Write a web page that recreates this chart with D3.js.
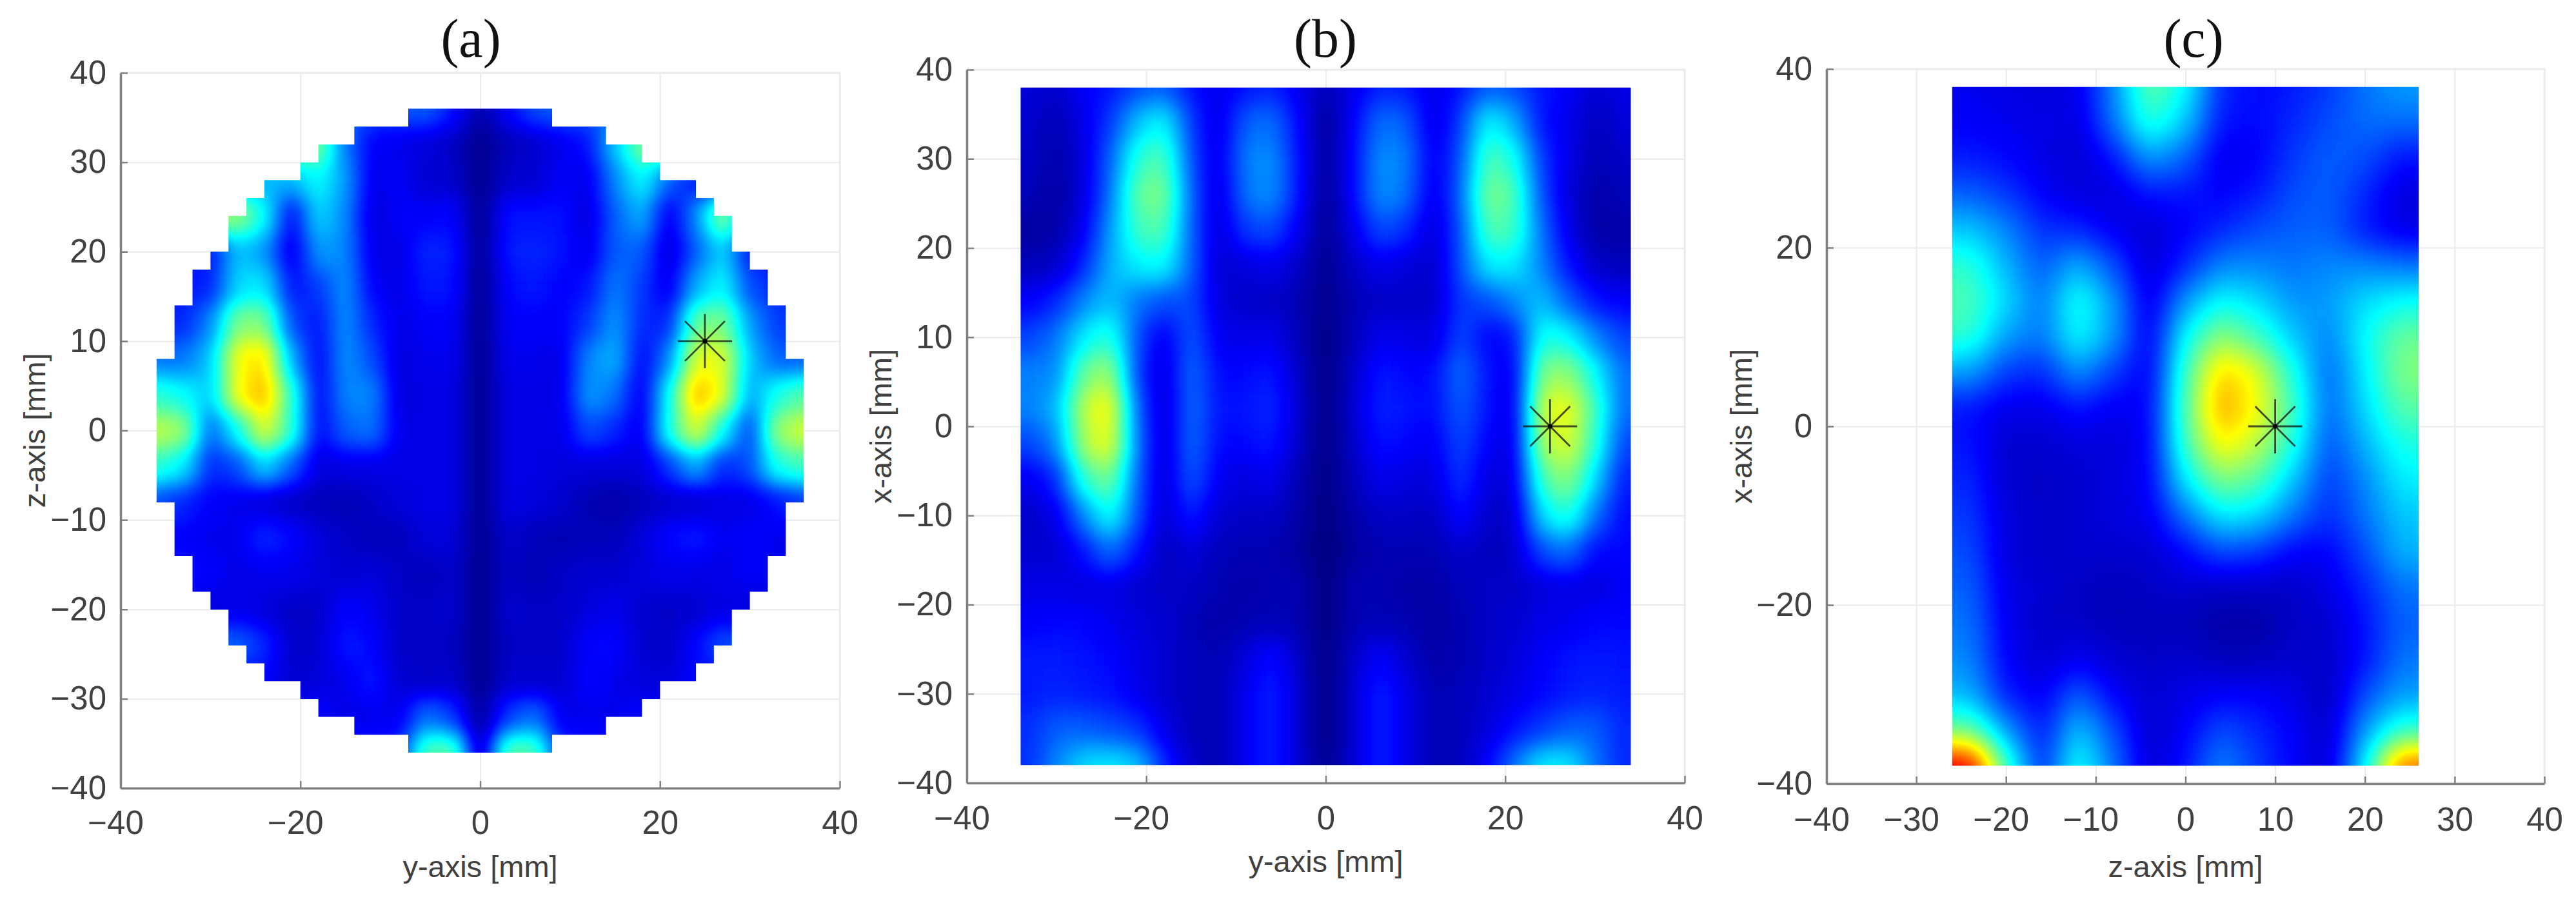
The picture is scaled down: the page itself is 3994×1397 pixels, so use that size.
<!DOCTYPE html>
<html>
  <head>
    <meta charset="UTF-8" />
    <script src="https://d3js.org/d3.v7.min.js"></script>
    <style>
      html, body { margin: 0; padding: 0; background: #fff; }
      svg { display: block; }
      .tickText text { font-family: "Liberation Sans", Arial, sans-serif; font-size: 51px; fill: #404040; }
      .axisTitle { font-family: "Liberation Sans", Arial, sans-serif; font-size: 47px; fill: #404040; text-anchor: middle; }
      .panelTitle { font-family: "Liberation Serif", "Times New Roman", serif; font-size: 84px; fill: #111; text-anchor: middle; }
    </style>
  </head>
  <body>
    <div id="chart"></div>
    <script>
      // jet colormap, one stop every 1/8
      var jetR = [0, 0, 0, 0, 0.5, 1, 1, 1, 0.5]
      var jetG = [0, 0, 0.5, 1, 1, 1, 0.5, 0, 0]
      var jetB = [0.5, 1, 1, 1, 0.5, 0, 0, 0, 0]

      var ticks10 = [-40, -30, -20, -10, 0, 10, 20, 30, 40]
      var ticks20 = [-40, -20, 0, 20, 40]

      var aCols = [-36, -33, -30, -27, -24, -21, -18, -15, -12, -9, -6, -3, 0, 3, 6, 9, 12, 15, 18, 21, 24, 27, 30, 33, 36]
      var aRows = [36, 32, 28, 24, 20, 16, 12, 8, 4, 0, -4, -8, -12, -16, -20, -24, -28, -32, -36]
      var aValues = [
        [22,22,22,22,22,22,22,22,20,20,22,14,4,12,20,22,22,22,22,22,22,22,22,22,22],
        [50,50,50,50,50,50,50,24,12,11,9,7,1,6,8,11,14,32,50,50,50,50,50,50,50],
        [30,30,30,30,30,30,38,28,10,12,8,8,1,8,8,12,10,26,38,22,14,14,14,14,14],
        [52,52,52,52,38,12,34,26,9,12,12,13,1,14,14,14,9,22,30,10,26,52,24,24,24],
        [14,14,14,32,28,9,28,26,10,10,16,15,1,15,16,14,10,22,22,8,22,34,14,14,14],
        [14,14,16,34,36,14,18,27,12,10,15,14,1,13,15,12,14,25,18,10,30,38,20,16,16],
        [16,16,26,50,50,20,14,27,16,10,12,12,1,12,12,12,18,28,16,16,48,50,28,18,18],
        [24,24,32,62,66,30,12,27,20,9,11,11,1,11,11,10,26,30,12,26,60,60,32,22,22],
        [42,38,32,62,70,42,12,26,26,9,10,10,1,10,10,10,28,24,10,38,70,60,28,40,46],
        [56,52,22,38,60,42,12,22,24,10,10,10,1,10,10,10,20,16,10,40,60,38,18,52,58],
        [42,36,16,20,34,22,9,10,10,10,10,10,1,10,10,9,9,9,9,18,30,16,20,40,44],
        [20,16,12,11,9,7,6,5,7,9,10,10,1,10,9,8,5,4,6,8,8,10,10,14,18],
        [12,12,11,11,16,13,9,7,6,6,9,9,1,8,6,5,6,6,9,13,15,11,12,11,11],
        [14,14,12,10,11,11,9,8,9,7,6,8,1,7,5,7,8,8,9,11,10,10,12,11,11],
        [9,9,9,11,9,7,7,13,11,7,7,8,1,8,7,7,9,11,8,7,8,10,9,9,9],
        [22,22,22,22,16,7,8,15,13,7,7,7,1,7,7,7,13,13,8,7,13,20,20,20,20],
        [13,13,13,13,13,8,9,11,15,8,7,8,1,8,8,8,13,11,9,9,13,13,13,13,13],
        [13,13,13,13,13,13,13,10,11,11,24,18,2,18,24,11,11,11,13,13,13,13,13,13,13],
        [15,15,15,15,15,15,15,15,15,16,46,46,4,46,46,16,15,15,15,15,15,15,15,15,15]
      ]
      // half width of the stepped disc, one entry per 2 mm row from z=36 down
      var aMaskHalf = [8,14,18,20,24,26,28,28,30,32,32,34,34,34,36,36,36,36,36,36,36,36,34,34,34,32,32,30,28,28,26,24,20,18,14,8]

      // panel (b)
      var bCols = [-33, -30, -27, -24, -21, -18, -15, -12, -9, -6, -3, 0, 3, 6, 9, 12, 15, 18, 21, 24, 27, 30, 33]
      var bRows = [38, 34, 30, 26, 22, 18, 14, 10, 6, 2, -2, -6, -10, -14, -18, -22, -26, -30, -34, -38]
      var bValues = [
        [9,7,12,14,20,22,14,10,14,16,11,5,10,16,15,10,14,22,20,14,12,8,10],
        [8,5,10,18,32,38,18,9,22,24,13,2,12,24,22,9,18,38,30,14,11,6,9],
        [7,4,9,22,42,46,20,9,25,27,14,2,13,27,25,10,20,46,40,18,10,5,7],
        [6,3,9,24,48,50,22,8,24,27,14,1,13,27,24,9,22,50,46,20,9,4,6],
        [3,4,11,28,44,46,22,8,18,20,11,1,10,20,17,8,20,46,44,24,10,4,4],
        [6,7,16,30,36,38,22,8,9,11,7,1,7,11,9,7,20,36,36,26,14,7,6],
        [12,16,26,32,24,20,20,9,7,7,5,1,5,7,7,7,18,20,26,32,22,14,12],
        [19,24,36,42,20,10,22,11,10,11,6,0,6,11,10,9,20,12,14,40,38,26,19],
        [25,26,48,54,18,8,24,13,13,15,7,0,7,15,13,13,24,14,10,50,52,38,23],
        [25,30,56,64,22,7,24,14,14,17,8,0,8,16,14,13,22,14,9,58,62,44,23],
        [19,26,54,62,24,7,24,13,13,15,7,0,7,14,13,11,20,12,9,54,60,42,19],
        [11,16,42,50,22,7,22,11,9,11,5,0,6,11,9,9,18,9,9,44,52,34,15],
        [7,10,26,40,20,7,16,8,7,7,4,0,4,7,7,6,14,7,7,34,42,24,13],
        [8,8,14,24,14,6,9,6,5,5,3,0,3,5,5,5,8,6,7,20,24,13,13],
        [10,10,9,10,8,7,7,5,4,5,5,0,5,5,4,4,6,7,7,9,10,9,12],
        [12,13,13,11,9,8,6,4,5,6,5,0,5,6,5,3,5,7,8,10,11,13,13],
        [15,15,14,13,10,8,6,5,9,14,7,0,7,13,8,4,5,7,9,12,14,15,14],
        [15,16,15,14,11,8,6,5,11,16,8,0,8,16,10,5,6,8,10,13,15,16,15],
        [17,22,22,20,18,10,6,5,11,16,8,0,8,16,10,5,6,9,14,18,22,22,16],
        [17,26,34,36,32,16,7,5,11,16,8,1,8,16,10,5,6,12,24,36,36,24,16]
      ]

      // panel (c)
      var cCols = [-24, -20, -16, -12, -8, -4, 0, 4, 8, 12, 16, 20, 24]
      var cRows = [38, 34, 30, 26, 22, 18, 14, 10, 6, 2, -2, -6, -10, -14, -18, -22, -26, -30, -34, -38]
      var cValues = [
        [11,10,9,10,26,48,38,16,13,15,18,24,28],
        [12,11,10,9,24,42,32,14,13,16,20,23,23],
        [15,13,10,8,14,28,22,10,12,18,22,20,14],
        [22,18,12,9,9,14,14,12,15,20,22,16,9],
        [32,26,17,16,11,8,12,16,20,22,22,15,10],
        [42,30,21,30,20,8,16,26,26,24,26,26,24],
        [45,34,24,40,28,9,28,38,34,27,28,34,38],
        [42,28,24,38,28,10,38,52,44,32,25,38,48],
        [28,18,16,27,18,11,44,68,60,40,22,36,50],
        [14,10,10,14,11,12,46,72,62,44,22,34,46],
        [14,8,8,9,9,12,44,64,56,40,20,30,40],
        [16,8,7,8,9,12,36,50,46,32,18,26,36],
        [18,9,7,8,9,11,24,36,34,24,16,24,32],
        [20,9,7,8,8,8,13,20,18,12,12,20,30],
        [22,10,8,7,6,7,8,7,7,7,10,16,24],
        [24,11,7,7,6,6,6,4,4,7,8,14,22],
        [26,12,8,11,8,7,8,6,6,8,7,14,24],
        [30,15,11,22,12,8,10,12,12,10,6,20,28],
        [48,28,14,32,20,7,12,20,16,12,7,28,42],
        [90,44,16,40,24,8,14,26,18,12,8,36,78]
      ]

      var panels = [
        { id: "a", title: "(a)", xLabel: "y-axis [mm]", yLabel: "z-axis [mm]", left: 187, right: 1302, top: 113, bottom: 1222,
          xTicks: ticks20, yTicks: ticks10, cols: aCols, rows: aRows, values: aValues, cellW: 3, cellH: 4,
          sigma: 17, xExtent: [-36, 36], yExtent: [-36, 36], mask: aMaskHalf, marker: [25, 10],
          titleX: 730, titleY: 88, xLabelY: 1360, yLabelX: 70, tickPad: 35 },
        { id: "b", title: "(b)", xLabel: "y-axis [mm]", yLabel: "x-axis [mm]", left: 1499, right: 2612, top: 108, bottom: 1214,
          xTicks: ticks20, yTicks: ticks10, cols: bCols, rows: bRows, values: bValues, cellW: 3, cellH: 4,
          sigma: 19, xExtent: [-34, 34], yExtent: [-38, 38], marker: [25, 0],
          titleX: 2055, titleY: 88, xLabelY: 1352, yLabelX: 1382, tickPad: 36 },
        { id: "c", title: "(c)", xLabel: "z-axis [mm]", yLabel: "x-axis [mm]", left: 2832, right: 3945, top: 107, bottom: 1215,
          xTicks: ticks10, yTicks: ticks20, cols: cCols, rows: cRows, values: cValues, cellW: 4, cellH: 4,
          sigma: 24, xExtent: [-26, 26], yExtent: [-38, 38], marker: [10, 0],
          titleX: 3401, titleY: 88, xLabelY: 1360, yLabelX: 2716, tickPad: 37 }
      ]

      var svg = d3.select("#chart").append("svg")
        .attr("width", 3994)
        .attr("height", 1397)

      var defs = svg.append("defs")
      var gray = d3.scaleLinear().domain([0, 100]).range(["#000", "#fff"])
      var tickFormat = function(d) { return String(d).replace("-", "\u2212") }

      panels.forEach(function(p) {
        var x = d3.scaleLinear().domain([-40, 40]).range([p.left, p.right])
        var y = d3.scaleLinear().domain([-40, 40]).range([p.bottom, p.top])
        var g = svg.append("g").attr("id", "panel" + p.id)

        // light box and grid
        g.append("rect")
          .attr("x", p.left).attr("y", p.top)
          .attr("width", p.right - p.left).attr("height", p.bottom - p.top)
          .attr("fill", "none").attr("stroke", "#efefef").attr("stroke-width", 3)

        var gridX = g.append("g")
          .attr("transform", "translate(0," + p.bottom + ")")
          .call(d3.axisBottom(x).tickValues(p.xTicks).tickSize(p.top - p.bottom).tickFormat(""))
        var gridY = g.append("g")
          .attr("transform", "translate(" + p.left + ",0)")
          .call(d3.axisLeft(y).tickValues(p.yTicks).tickSize(p.left - p.right).tickFormat(""))
        gridX.select(".domain").remove()
        gridY.select(".domain").remove()
        g.selectAll("line").attr("stroke", "#ebebeb").attr("stroke-width", 2)

        // blur the gray cells, then push the result through the jet table
        var filter = defs.append("filter")
          .attr("id", "jet" + p.id)
          .attr("filterUnits", "userSpaceOnUse")
          .attr("x", 0).attr("y", 0).attr("width", 3994).attr("height", 1397)
          .attr("color-interpolation-filters", "sRGB")
        filter.append("feGaussianBlur").attr("stdDeviation", p.sigma)
        var transfer = filter.append("feComponentTransfer")
        transfer.append("feFuncR").attr("type", "table").attr("tableValues", jetR.join(" "))
        transfer.append("feFuncG").attr("type", "table").attr("tableValues", jetG.join(" "))
        transfer.append("feFuncB").attr("type", "table").attr("tableValues", jetB.join(" "))

        var clip = defs.append("clipPath").attr("id", "clip" + p.id)
        if (p.mask) {
          clip.selectAll("rect").data(p.mask).enter().append("rect")
            .attr("x", function(d) { return x(-d) })
            .attr("width", function(d) { return x(d) - x(-d) })
            .attr("y", function(d, i) { return y(36 - 2 * i) })
            .attr("height", function(d, i) { return y(34 - 2 * i) - y(36 - 2 * i) + 0.5 })
        } else {
          clip.append("rect")
            .attr("x", x(p.xExtent[0])).attr("y", y(p.yExtent[1]))
            .attr("width", x(p.xExtent[1]) - x(p.xExtent[0]))
            .attr("height", y(p.yExtent[0]) - y(p.yExtent[1]))
        }

        var cells = []
        p.rows.forEach(function(r, ri) {
          p.cols.forEach(function(c, ci) {
            cells.push({ col: c, row: r, ci: ci, ri: ri, v: p.values[ri][ci] })
          })
        })

        // outer cells run past the clip so the blur has no soft edge
        var bleed = 80
        var lastC = p.cols.length - 1
        var lastR = p.rows.length - 1
        g.append("g").attr("clip-path", "url(#clip" + p.id + ")")
          .append("g").attr("filter", "url(#jet" + p.id + ")")
          .selectAll("rect").data(cells).enter().append("rect")
          .attr("x", function(d) { return x(d.col - p.cellW / 2) - (d.ci == 0 ? bleed : 0) })
          .attr("y", function(d) { return y(d.row + p.cellH / 2) - (d.ri == 0 ? bleed : 0) })
          .attr("width", function(d) {
            return x(d.col + p.cellW / 2) - x(d.col - p.cellW / 2) + 1 + (d.ci == 0 || d.ci == lastC ? bleed : 0)
          })
          .attr("height", function(d) {
            return y(d.row - p.cellH / 2) - y(d.row + p.cellH / 2) + 1 + (d.ri == 0 || d.ri == lastR ? bleed : 0)
          })
          .attr("fill", function(d) { return gray(d.v) })

        // dark left and bottom axes with inward ticks
        var xAxis = g.append("g")
          .attr("class", "tickText")
          .attr("transform", "translate(0," + p.bottom + ")")
          .call(d3.axisBottom(x).tickValues(p.xTicks).tickSizeInner(-11).tickSizeOuter(0).tickPadding(p.tickPad).tickFormat(tickFormat))
        var yAxis = g.append("g")
          .attr("class", "tickText")
          .attr("transform", "translate(" + p.left + ",0)")
          .call(d3.axisLeft(y).tickValues(p.yTicks).tickSizeInner(-11).tickSizeOuter(0).tickPadding(23).tickFormat(tickFormat))
        // the minus sign hangs out to the left in the original labels
        xAxis.selectAll("text")
          .attr("y", p.tickPad)
          .attr("x", function(d) { return d < 0 ? -8 : 0 })
        yAxis.selectAll("text").attr("x", -22)
        ;[xAxis, yAxis].forEach(function(a) {
          a.select(".domain").attr("stroke", "#808080").attr("stroke-width", 3.5)
          a.selectAll("line").attr("stroke", "#808080").attr("stroke-width", 2.5)
        })

        // asterisk marker
        var mx = x(p.marker[0])
        var my = y(p.marker[1])
        var arms = [[42, 0], [0, 42], [31, 31], [31, -31]]
        g.selectAll(".arm").data(arms).enter().append("line")
          .attr("class", "arm")
          .attr("x1", function(d) { return mx - d[0] })
          .attr("y1", function(d) { return my - d[1] })
          .attr("x2", function(d) { return mx + d[0] })
          .attr("y2", function(d) { return my + d[1] })
          .attr("stroke", "#111").attr("stroke-opacity", 0.75).attr("stroke-width", 2.8)
        g.append("circle").attr("cx", mx).attr("cy", my).attr("r", 3.5).attr("fill", "#000")

        g.append("text").attr("class", "panelTitle").attr("x", p.titleX).attr("y", p.titleY).text(p.title)
        g.append("text").attr("class", "axisTitle").attr("x", (p.left + p.right) / 2).attr("y", p.xLabelY).text(p.xLabel)
        g.append("text").attr("class", "axisTitle")
          .attr("transform", "translate(" + p.yLabelX + "," + (p.top + p.bottom) / 2 + ") rotate(-90)")
          .text(p.yLabel)
      })
    </script>
  </body>
</html>
